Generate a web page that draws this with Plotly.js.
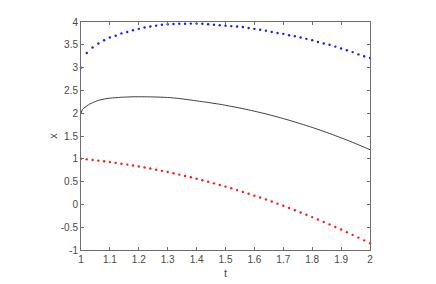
<!DOCTYPE html>
<html><head><meta charset="utf-8">
<script src="https://cdn.plot.ly/plotly-3.0.1.min.js"></script>
<style>html,body{margin:0;padding:0;background:#fff}#plot{width:436px;height:284px}</style>
</head><body><div id="plot"></div>
<script>
var tDots = [1.00,1.02,1.04,1.06,1.08,1.10,1.12,1.14,1.16,1.18,1.20,1.22,1.24,1.26,1.28,1.30,1.32,1.34,1.36,1.38,1.40,1.42,1.44,1.46,1.48,1.50,1.52,1.54,1.56,1.58,1.60,1.62,1.64,1.66,1.68,1.70,1.72,1.74,1.76,1.78,1.80,1.82,1.84,1.86,1.88,1.90,1.92,1.94,1.96,1.98,2.00];
var upper = [3.00,3.32,3.44,3.53,3.60,3.66,3.70,3.75,3.78,3.82,3.85,3.88,3.90,3.92,3.94,3.95,3.955,3.96,3.96,3.965,3.965,3.96,3.95,3.94,3.93,3.92,3.91,3.90,3.89,3.87,3.85,3.83,3.81,3.78,3.76,3.74,3.71,3.69,3.66,3.63,3.60,3.56,3.53,3.50,3.46,3.42,3.38,3.34,3.29,3.25,3.21];
var lower = [1.000,0.988,0.974,0.960,0.945,0.928,0.911,0.893,0.873,0.853,0.832,0.809,0.786,0.761,0.736,0.710,0.682,0.654,0.624,0.594,0.562,0.530,0.497,0.462,0.427,0.390,0.353,0.314,0.274,0.234,0.192,0.150,0.106,0.062,0.016,-0.030,-0.078,-0.127,-0.176,-0.227,-0.278,-0.331,-0.385,-0.439,-0.495,-0.552,-0.609,-0.668,-0.728,-0.788,-0.850];
var tLine = [1.00,1.005,1.01,1.02,1.03,1.04,1.06,1.08,1.10,1.12,1.14,1.16,1.18,1.20,1.22,1.24,1.26,1.28,1.30,1.32,1.34,1.36,1.38,1.40,1.42,1.44,1.46,1.48,1.50,1.52,1.54,1.56,1.58,1.60,1.62,1.64,1.66,1.68,1.70,1.72,1.74,1.76,1.78,1.80,1.82,1.84,1.86,1.88,1.90,1.92,1.94,1.96,1.98,2.00];
var mid = [2.00,2.08,2.11,2.16,2.20,2.23,2.28,2.31,2.33,2.34,2.35,2.355,2.36,2.36,2.36,2.358,2.355,2.35,2.345,2.335,2.322,2.306,2.289,2.270,2.253,2.235,2.216,2.196,2.174,2.150,2.126,2.100,2.073,2.044,2.015,1.984,1.951,1.917,1.882,1.846,1.808,1.769,1.729,1.688,1.645,1.600,1.555,1.508,1.460,1.411,1.360,1.308,1.254,1.200];
var xTicks = [1,1.1,1.2,1.3,1.4,1.5,1.6,1.7,1.8,1.9,2];
var xTickText = ["1","1.1","1.2","1.3","1.4","1.5","1.6","1.7","1.8","1.9","2"];
var yTicks = [-1,-0.5,0,0.5,1,1.5,2,2.5,3,3.5,4];
var yTickText = ["-1","-0.5","0","0.5","1","1.5","2","2.5","3","3.5","4"];

var traces = [
  {x: tDots, y: upper, mode: 'markers', type: 'scatter', marker: {color: '#1a1aff', size: 2.4}, cliponaxis: false},
  {x: tLine, y: mid, mode: 'lines', type: 'scatter', line: {color: '#2a2a2a', width: 0.9, shape: 'spline', smoothing: 0.8}},
  {x: tDots, y: lower, mode: 'markers', type: 'scatter', marker: {color: '#ff1a1a', size: 2.4}, cliponaxis: false}
];
var axisCommon = {
  showline: true, linecolor: '#6e6e6e', linewidth: 1, mirror: 'ticks',
  ticks: 'inside', ticklen: 3, tickcolor: '#6e6e6e', tickwidth: 1,
  showgrid: false, zeroline: false,
  tickfont: {family: 'Liberation Sans, Arial, sans-serif', size: 10, color: '#4a4a4a'}
};
var layout = {
  width: 436, height: 284,
  margin: {l: 81, r: 66, t: 22, b: 34, pad: 0},
  paper_bgcolor: '#ffffff', plot_bgcolor: '#ffffff',
  showlegend: false,
  xaxis: Object.assign({}, axisCommon, {
    range: [1, 2], tickvals: xTicks, ticktext: xTickText,
    title: {text: 't', font: {family: 'Liberation Sans, Arial, sans-serif', size: 11, color: '#4a4a4a'}, standoff: 5}
  }),
  yaxis: Object.assign({}, axisCommon, {
    range: [-1, 4], tickvals: yTicks, ticktext: yTickText,
    title: {text: 'x', font: {family: 'Liberation Sans, Arial, sans-serif', size: 11, color: '#4a4a4a'}, standoff: 0}
  })
};
Plotly.newPlot('plot', traces, layout, {staticPlot: true, displayModeBar: false});
</script></body></html>
